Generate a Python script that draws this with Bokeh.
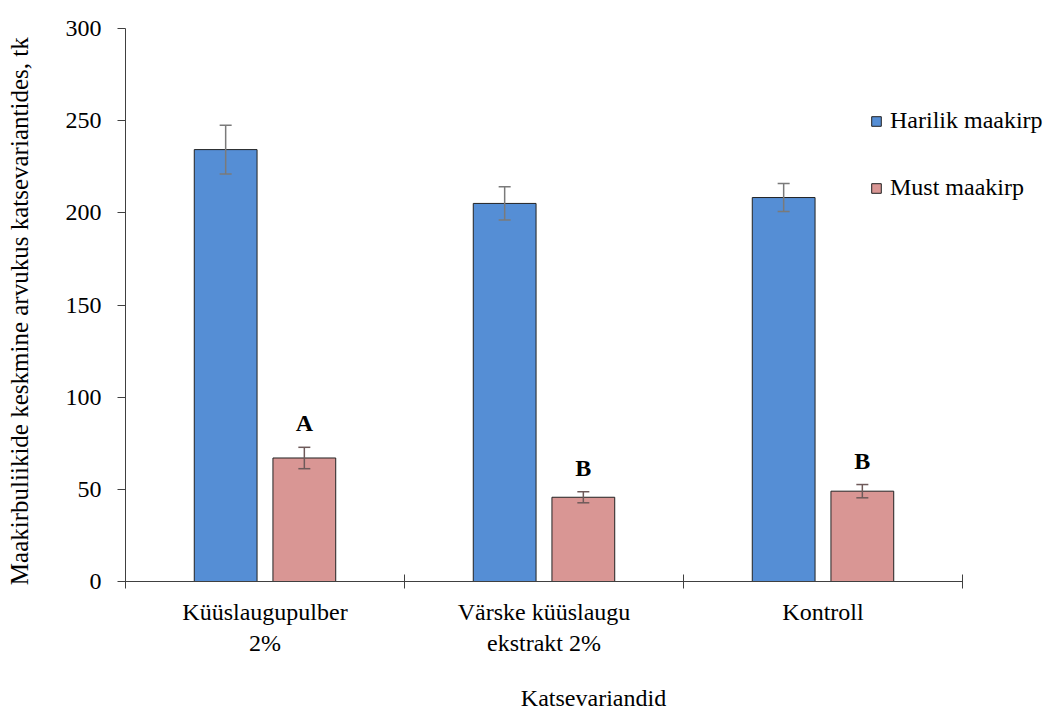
from bokeh.plotting import figure
from bokeh.models import (ColumnDataSource, Whisker, FixedTicker, Legend, LegendItem,
                          TeeHead, Range1d)
from bokeh.core.properties import value
from bokeh.embed import file_html
from bokeh.resources import INLINE

categories = ["Küüslaugupulber\n2%", "Värske küüslaugu\nekstrakt 2%", "Kontroll"]
series = ["Harilik maakirp", "Must maakirp"]
harilik = [234.3, 205.1, 208.3]
harilik_err = [13.2, 9.0, 7.6]
must = [67.0, 45.7, 49.0]
must_err = [5.8, 3.0, 3.6]
letters = ["A", "B", "B"]
y_ticks = [0, 50, 100, 150, 200, 250, 300]

FONT = "Liberation Serif"
FS = "24px"
BLUE = "#558ED5"
PINK = "#D99694"

W, H = 1061, 713
FL, FT, FB = 125, 28, 581
n = len(categories)
centers = [i + 0.5 for i in range(n)]
offset = 0.141
bw = 0.225
cat_px = (962.0 - FL) / n
extra = (W - 962.0) / cat_px

src_h = ColumnDataSource(dict(
    x=[c - offset for c in centers], top=harilik,
    upper=[v + e for v, e in zip(harilik, harilik_err)],
    lower=[v - e for v, e in zip(harilik, harilik_err)]))
src_m = ColumnDataSource(dict(
    x=[c + offset for c in centers], top=must,
    upper=[v + e for v, e in zip(must, must_err)],
    lower=[v - e for v, e in zip(must, must_err)],
    letter=letters))

p = figure(width=W, height=H, output_backend="svg", toolbar_location=None,
           x_range=Range1d(0, n + extra), y_range=Range1d(0, 300),
           min_border_left=FL, min_border_right=0, min_border_top=FT,
           min_border_bottom=H - FB)
p.outline_line_color = None
p.xgrid.visible = False
p.ygrid.visible = False

r1 = p.vbar(x="x", top="top", width=bw, source=src_h, fill_color=BLUE,
            line_color="#222222", line_width=1)
r2 = p.vbar(x="x", top="top", width=bw, source=src_m, fill_color=PINK,
            line_color="#222222", line_width=1)

for src, col in ((src_h, "#7a7a7a"), (src_m, "#6e5a5a")):
    w = Whisker(base="x", upper="upper", lower="lower", source=src,
                line_color=col, line_width=1.5, level="overlay",
                upper_head=TeeHead(size=12, line_color=col, line_width=1.5),
                lower_head=TeeHead(size=12, line_color=col, line_width=1.5))
    p.add_layout(w)

p.text(x="x", y="upper", text="letter", source=src_m,
       text_font=value(FONT), text_font_style="bold", text_font_size=FS,
       text_align="center", text_baseline="bottom", y_offset=-11,
       text_color="black")

# axes
ax = p.xaxis[0]
ax.bounds = (0, n)
ax.ticker = FixedTicker(ticks=centers, minor_ticks=list(range(n + 1)))
ax.major_label_overrides = {c: lab for c, lab in zip(centers, categories)}
ax.major_tick_line_color = None
ax.major_tick_out = 7
ax.major_tick_in = 0
ax.minor_tick_line_color = "#404040"
ax.minor_tick_in = 7
ax.minor_tick_out = 7
ax.axis_line_color = "#404040"
ax.major_label_text_font = FONT
ax.major_label_text_font_size = FS
ax.major_label_text_color = "black"
ax.major_label_standoff = 10
ax.axis_label = "Katsevariandid"
ax.axis_label_text_font = FONT
ax.axis_label_text_font_size = FS
ax.axis_label_text_font_style = "normal"
ax.axis_label_text_color = "black"
ax.axis_label_standoff = 26

ay = p.yaxis[0]
ay.ticker = FixedTicker(ticks=y_ticks)
ay.minor_tick_line_color = None
ay.major_tick_in = 0
ay.major_tick_out = 8
ay.major_tick_line_color = "#404040"
ay.axis_line_color = "#404040"
ay.major_label_text_font = FONT
ay.major_label_text_font_size = FS
ay.major_label_text_color = "black"
ay.major_label_standoff = 16
ay.axis_label = "Maakirbuliikide  keskmine  arvukus katsevariantides, tk"
ay.axis_label_text_font = FONT
ay.axis_label_text_font_size = "25px"
ay.axis_label_text_font_style = "normal"
ay.axis_label_text_color = "black"
ay.axis_label_standoff = 30

legend = Legend(items=[LegendItem(label=series[0], renderers=[r1]),
                       LegendItem(label=series[1], renderers=[r2])],
                location=(745, 380), padding=0, spacing=40,
                glyph_width=12, glyph_height=12, label_standoff=8,
                border_line_color=None, background_fill_alpha=0,
                label_text_font=FONT, label_text_font_size=FS,
                label_text_color="black")
p.add_layout(legend)

open("out.html", "w").write(file_html(p, INLINE))
